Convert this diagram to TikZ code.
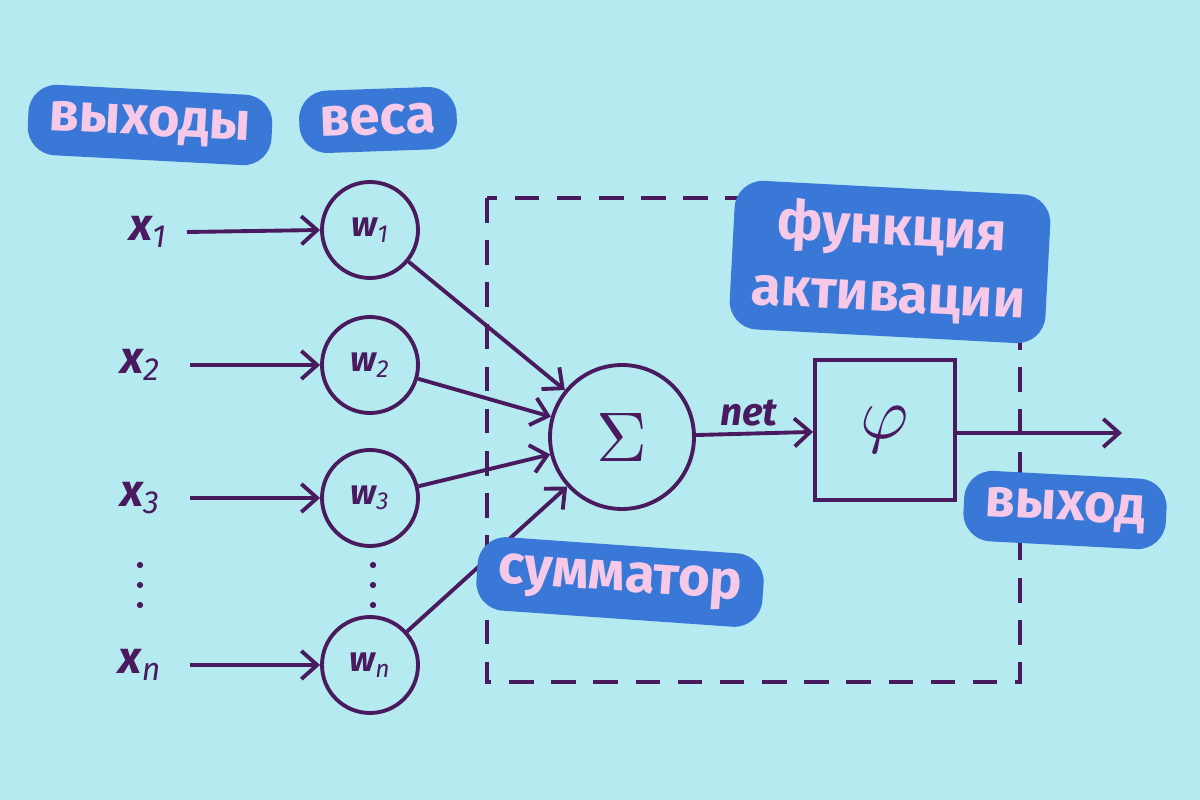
\documentclass[tikz,border=0pt]{standalone}
\usepackage{fontspec}
\setmainfont{Fira Sans}
\usetikzlibrary{arrows.meta}
\definecolor{bg}{HTML}{B5EBF0}
\definecolor{ink}{HTML}{4A1A5E}
\definecolor{blob}{HTML}{3A78D8}
\definecolor{pinktext}{HTML}{F7C9E8}
\begin{document}
\begin{tikzpicture}[x=0.02cm,y=-0.02cm,
  line width=2.2pt,
  arr/.style={ink,-{Straight Barb[length=9pt,width=16pt,line width=2.2pt]}},
  wc/.style={circle,draw=ink,minimum size=96*0.02cm,inner sep=0pt,font=\bfseries\itshape\fontsize{20}{20}\selectfont,text=ink},
  xl/.style={font=\bfseries\itshape\fontsize{26}{26}\selectfont,text=ink},
  tag/.style={fill=blob,rounded corners=16pt,text=pinktext,font=\bfseries\fontsize{31}{31}\selectfont,inner xsep=12pt,inner ysep=9pt,align=center}]
\fill[bg] (0,0) rectangle (1200,800);
\useasboundingbox (0,0) rectangle (1200,800);
% dashed box
\draw[ink,dash pattern=on 14pt off 10pt] (487,198) rectangle (1020,682);
% inputs
\node[xl] (x1) at (148,232) {x$_{\mathit 1}$};
\node[xl] (x2) at (140,365) {x$_{\mathit 2}$};
\node[xl] (x3) at (140,498) {x$_{\mathit 3}$};
\node[xl] (xn) at (140,665) {x$_{\mathit n}$};
\node[wc] (w1) at (370,230) {w$_{\mathit 1}$};
\node[wc] (w2) at (370,365) {w$_{\mathit 2}$};
\node[wc] (w3) at (370,498) {w$_{\mathit 3}$};
\node[wc] (wn) at (370,665) {w$_{\mathit n}$};
\coordinate (a1) at (187,232); \coordinate (a2) at (190,365);
\coordinate (a3) at (190,498); \coordinate (an) at (190,665);
\draw[arr] (a1) -- (w1.west);
\draw[arr] (a2) -- (w2.west);
\draw[arr] (a3) -- (w3.west);
\draw[arr] (an) -- (wn.west);
% dots
\foreach \y in {565,585,605} {\fill[ink] (140,\y) circle (1.8pt); \fill[ink] (373,\y) circle (1.8pt);}
% sum
\node[circle,draw=ink,minimum size=144*0.02cm,inner sep=0pt,text=ink] (s) at (622,437) {\scalebox{4}{$\Sigma$}};
\draw[arr] (w1) -- (s);
\draw[arr] (w2) -- (s);
\draw[arr] (w3) -- (s);
\draw[arr] (wn) -- (s);
% phi
\node[draw=ink,minimum size=140*0.02cm,inner sep=0pt,text=ink] (p) at (885,430) {\scalebox{4.2}{$\varphi$}};
\draw[arr] (s) -- node[above,text=ink,font=\bfseries\itshape\fontsize{22}{22}\selectfont,pos=0.45] {net} (p);
\coordinate (out) at (1122,433);
\draw[arr] (p.east|-out) -- (out);
% tags
\node[tag,rotate=-3] (t1) at (150,125) {выходы};
\node[tag,rotate=2] (t2) at (378,120) {веса};
\node[tag,rotate=-3,font=\bfseries\fontsize{31}{38}\selectfont] (t3) at (890,262) {функция\\активации};
\node[tag,rotate=-4] (t4) at (620,582) {сумматор};
\node[tag,rotate=-3] (t5) at (1065,510) {выход};
\end{tikzpicture}
\end{document}
